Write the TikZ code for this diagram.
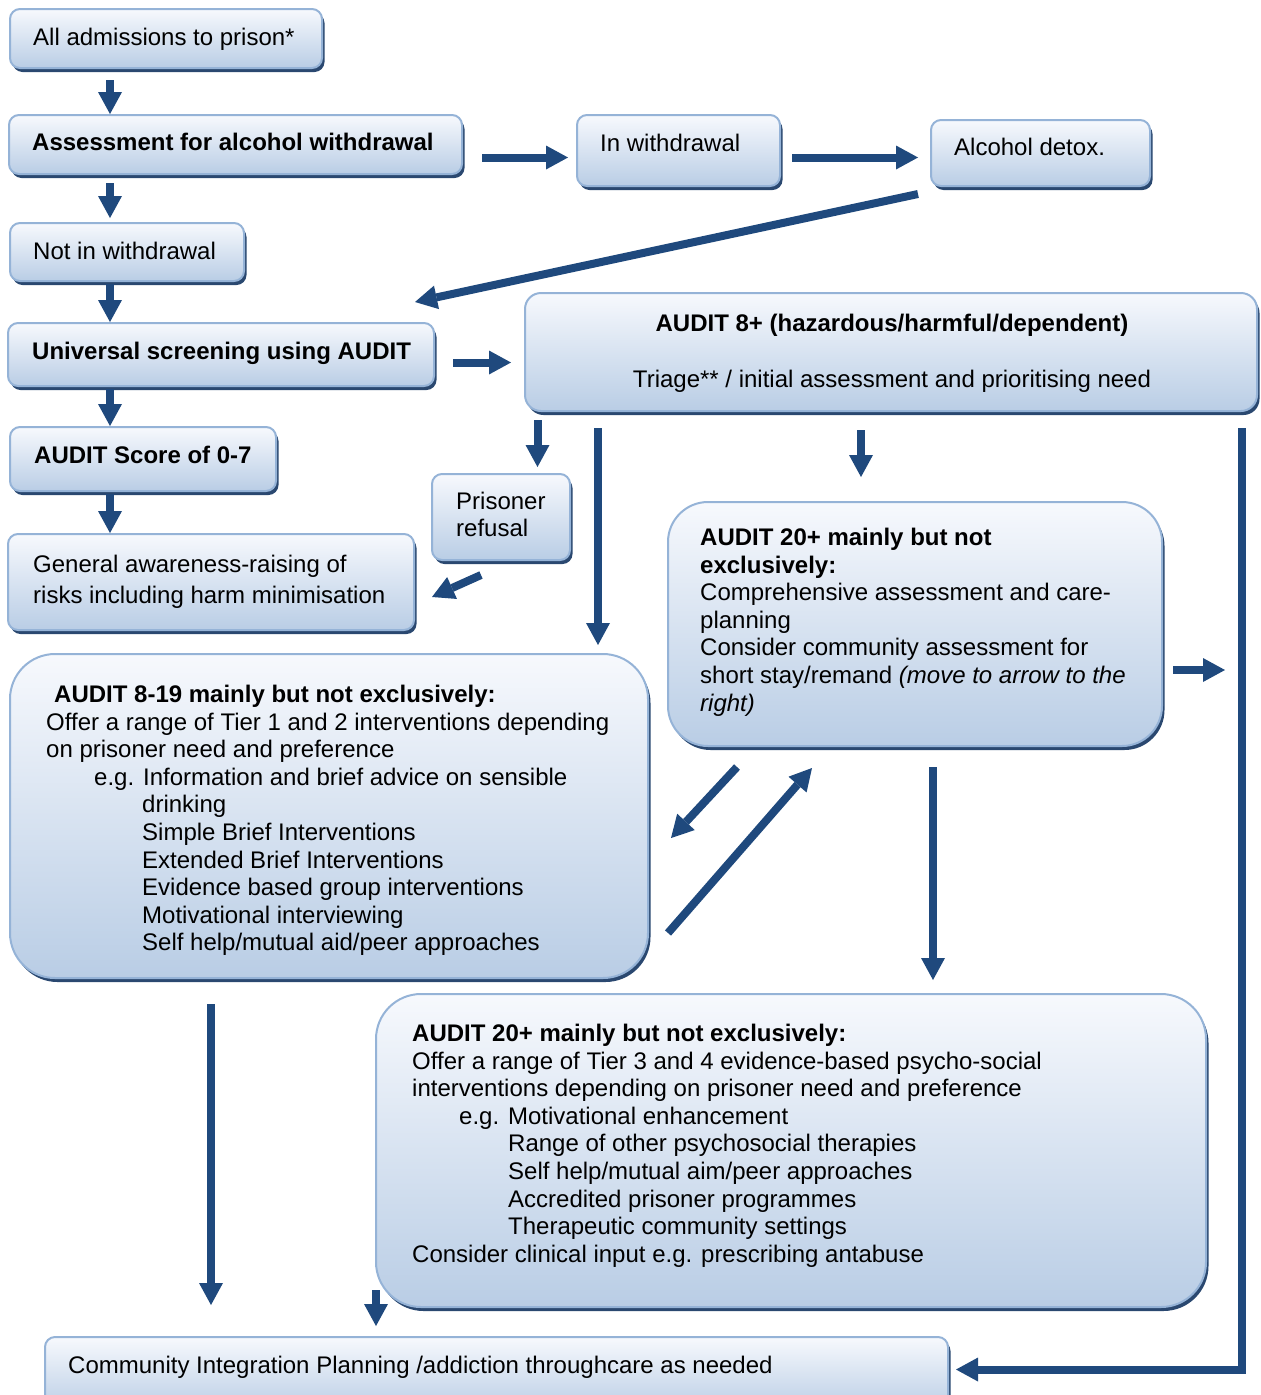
\documentclass[tikz,border=0pt]{standalone}
\usepackage{fontspec}
\setmainfont{Liberation Sans}
\usetikzlibrary{arrows.meta,shadows}
\definecolor{arrowc}{HTML}{1F497D}
\definecolor{borderc}{HTML}{95B3D7}
\definecolor{topc}{HTML}{F7F9FD}
\definecolor{midc}{HTML}{DCE6F2}
\definecolor{botc}{HTML}{B9CDE5}
\definecolor{shadowc}{HTML}{2A4870}
\newcommand{\fsz}{\fontsize{24}{27.6}\selectfont}
\begin{document}
\begin{tikzpicture}[x=1pt,y=-1pt,
  box/.style={draw=borderc,line width=2pt,top color=topc,middle color=midc,bottom color=botc,
    rounded corners=#1,anchor=north west,inner sep=0pt,outer sep=0pt,
    drop shadow={shadow xshift=2.5pt,shadow yshift=-4pt,fill=shadowc,opacity=1}},
  box/.default=10pt,
  txt/.style={inner sep=0pt,anchor=base west,align=left,font=\fsz},
  mtxt/.style={inner sep=0pt,anchor=north west,align=left,font=\fsz},
  arr/.style={draw=arrowc,line width=8pt,-{Triangle[length=22pt,width=24pt,line width=0pt]}},
  ]
\useasboundingbox (0,0) rectangle (1261,1395);
\clip (0,0) rectangle (1261,1395);

% boxes
\node[box,minimum width=312pt,minimum height=59pt] (b1) at (10,9) {};
\node[box,minimum width=453pt,minimum height=59pt] (b2) at (9,115) {};
\node[box,minimum width=203pt,minimum height=71pt] (b3) at (577,115) {};
\node[box,minimum width=219pt,minimum height=66pt] (b4) at (931,120) {};
\node[box,minimum width=234pt,minimum height=58pt] (b5) at (10,223) {};
\node[box,minimum width=426pt,minimum height=63pt] (b6) at (8,323) {};
\node[box=16pt,minimum width=732pt,minimum height=118pt] (b7) at (525,293) {};
\node[box,minimum width=266pt,minimum height=64pt] (b8) at (10,427) {};
\node[box,minimum width=138pt,minimum height=86pt] (b9) at (432,474) {};
\node[box,minimum width=406pt,minimum height=96pt] (b10) at (8,534) {};
\node[box=45pt,minimum width=638pt,minimum height=324pt] (b11) at (10,654) {};
\node[box=40pt,minimum width=494pt,minimum height=244pt] (b12) at (668,502) {};
\node[box=45pt,minimum width=830pt,minimum height=313pt] (b13) at (376,994) {};
\node[box,minimum width=903pt,minimum height=75pt] (b14) at (45,1337) {};

% texts
\node[txt] (t1) at (33,45) {All admissions to prison*};
\node[txt] (t2) at (32,150) {\textbf{Assessment for alcohol withdrawal}};
\node[txt] (t3) at (600,151) {In withdrawal};
\node[txt] (t4) at (954,155) {Alcohol detox.};
\node[txt] (t5) at (33,259) {Not in withdrawal};
\node[txt] (t6) at (32,359) {\textbf{Universal screening using AUDIT}};
\node[mtxt,anchor=north,align=center] (t7) at (892,313.5) {\textbf{AUDIT 8+ (hazardous/harmful/dependent)}\\[28.4pt]Triage** / initial assessment and prioritising need};
\node[txt] (t8) at (34,463) {\textbf{AUDIT Score of 0-7}};
\node[mtxt] (t9) at (456,491.8) {Prisoner\\refusal};
\node[mtxt] (t10) at (33,554.8) {General awareness-raising of\\[3.4pt]risks including harm minimisation};
\node[mtxt] (t11) at (46,684.8) {\hspace*{8pt}\textbf{AUDIT 8-19 mainly but not exclusively:}\\
Offer a range of Tier 1 and 2 interventions depending\\
on prisoner need and preference\\
\hspace*{48pt}e.g. Information and brief advice on sensible\\
\hspace*{96pt}drinking\\
\hspace*{96pt}Simple Brief Interventions\\
\hspace*{96pt}Extended Brief Interventions\\
\hspace*{96pt}Evidence based group interventions\\
\hspace*{96pt}Motivational interviewing\\
\hspace*{96pt}Self help/mutual aid/peer approaches};
\node[mtxt] (t12) at (700,527.8) {\textbf{AUDIT 20+ mainly but not}\\
\textbf{exclusively:}\\
Comprehensive assessment and care-\\
planning\\
Consider community assessment for\\
short stay/remand \textit{(move to arrow to the}\\
\textit{right)}};
\node[mtxt] (t13) at (412,1023.8) {\textbf{AUDIT 20+ mainly but not exclusively:}\\
Offer a range of Tier 3 and 4 evidence-based psycho-social\\
interventions depending on prisoner need and preference\\
\hspace*{47pt}e.g. Motivational enhancement\\
\hspace*{96pt}Range of other psychosocial therapies\\
\hspace*{96pt}Self help/mutual aim/peer approaches\\
\hspace*{96pt}Accredited prisoner programmes\\
\hspace*{96pt}Therapeutic community settings\\
Consider clinical input e.g. prescribing antabuse};
\node[txt] (t14) at (68,1373) {Community Integration Planning /addiction throughcare as needed};

% connector end points
\coordinate (a1s) at (110,80);   \coordinate (a1e) at (110,114);
\coordinate (a2s) at (110,183);  \coordinate (a2e) at (110,218);
\coordinate (a3s) at (110,284);  \coordinate (a3e) at (110,322);
\coordinate (a4s) at (110,389);  \coordinate (a4e) at (110,426);
\coordinate (a5s) at (110,494);  \coordinate (a5e) at (110,533);
\coordinate (a6s) at (482,157.5); \coordinate (a6e) at (568,157.5);
\coordinate (a7s) at (792,157.5); \coordinate (a7e) at (918,157.5);
\coordinate (a8s) at (918,194);  \coordinate (a8e) at (415,302);
\coordinate (a9s) at (453,362.5); \coordinate (a9e) at (511,362.5);
\coordinate (a10s) at (537.5,420); \coordinate (a10e) at (537.5,467);
\coordinate (a11s) at (598,428); \coordinate (a11e) at (598,645);
\coordinate (a12s) at (861,430); \coordinate (a12e) at (861,477);
\coordinate (a13s) at (1241.5,428); \coordinate (a13m) at (1241.5,1369.5); \coordinate (a13e) at (956,1369.5);
\coordinate (a14s) at (1173,670); \coordinate (a14e) at (1225,670);
\coordinate (a15s) at (481,575); \coordinate (a15e) at (432,597);
\coordinate (a16s) at (737,767); \coordinate (a16e) at (671,838);
\coordinate (a17s) at (668,933); \coordinate (a17e) at (812,768);
\coordinate (a18s) at (933,767); \coordinate (a18e) at (933,980);
\coordinate (a19s) at (211,1004); \coordinate (a19e) at (211,1305);
\coordinate (a20s) at (376,1290); \coordinate (a20e) at (376,1326);

% connectors
\draw[arr] (a1s) -- (a1e);
\draw[arr] (a2s) -- (a2e);
\draw[arr] (a3s) -- (a3e);
\draw[arr] (a4s) -- (a4e);
\draw[arr] (a5s) -- (a5e);
\draw[arr] (a6s) -- (a6e);
\draw[arr] (a7s) -- (a7e);
\draw[arr] (a8s) -- (a8e);
\draw[arr] (a9s) -- (a9e);
\draw[arr] (a10s) -- (a10e);
\draw[arr] (a11s) -- (a11e);
\draw[arr] (a12s) -- (a12e);
\draw[arr,line join=miter] (a13s) -- (a13m) -- (a13e);
\draw[arr] (a14s) -- (a14e);
\draw[arr] (a15s) -- (a15e);
\draw[arr] (a16s) -- (a16e);
\draw[arr] (a17s) -- (a17e);
\draw[arr] (a18s) -- (a18e);
\draw[arr] (a19s) -- (a19e);
\draw[arr] (a20s) -- (a20e);
\end{tikzpicture}
\end{document}
